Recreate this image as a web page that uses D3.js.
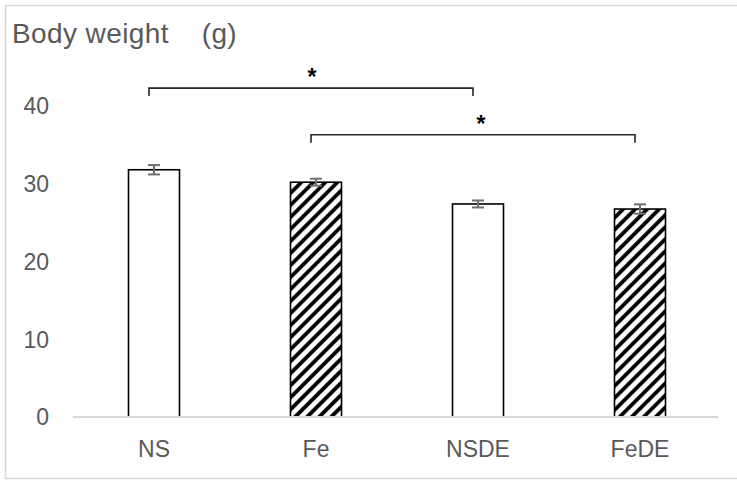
<!DOCTYPE html>
<html>
<head>
<meta charset="utf-8">
<script src="https://cdn.jsdelivr.net/npm/d3@7"></script>
<style>
  body { margin: 0; background: #fff; }
  svg { display: block; font-family: "Liberation Sans", Arial, sans-serif; }
</style>
</head>
<body>
<svg width="737" height="481"></svg>
<script>
// data
const groups = ['NS', 'Fe', 'NSDE', 'FeDE']
const means = [31.8, 30.2, 27.4, 26.75]
const errs = [0.6, 0.45, 0.45, 0.6]
const hatched = [false, true, false, true]
const yTicks = [0, 10, 20, 30, 40]
// significance brackets: from group, to group, height (g)
const sigFrom = ['NS', 'Fe']
const sigTo = ['NSDE', 'FeDE']
const sigLevel = [42.3, 36.3]
const sigStarShift = [1, 8]

const svg = d3.select('svg')
const margin = {top: 106, left: 73, right: 16, bottom: 64}
const W = 737, H = 481

// chart frame
svg.append('rect')
  .attr('x', 5.5).attr('y', 5.5)
  .attr('width', 740).attr('height', 473)
  .attr('fill', 'none').attr('stroke', '#d9d9d9').attr('stroke-width', 1.5)

const x = d3.scaleBand()
  .domain(groups)
  .range([margin.left, W - margin.right])

const y = d3.scaleLinear()
  .domain([0, 40])
  .range([417, 106])

// hatch pattern
const defs = svg.append('defs')
const pat = defs.append('pattern')
  .attr('id', 'hatch')
  .attr('patternUnits', 'userSpaceOnUse')
  .attr('width', 8.5).attr('height', 8.5)
  .attr('patternTransform', 'rotate(45)')
pat.append('rect').attr('width', 8.5).attr('height', 8.5).attr('fill', '#fff')
pat.append('line')
  .attr('x1', 2).attr('y1', 0).attr('x2', 2).attr('y2', 8.5)
  .attr('stroke', '#000').attr('stroke-width', 3.8)

// title
svg.append('text')
  .attr('x', 12).attr('y', 43)
  .attr('fill', '#595959')
  .attr('font-size', 28)
  .attr('letter-spacing', 0.4)
  .style('white-space', 'pre')
  .text('Body weight    (g)')

// y tick labels
svg.append('g')
  .selectAll('text')
  .data(yTicks)
  .enter().append('text')
  .attr('x', 49)
  .attr('y', d => y(d))
  .attr('dy', '0.36em')
  .attr('text-anchor', 'end')
  .attr('fill', '#595959')
  .attr('font-size', 23)
  .text(d => d)

const barW = 51
const bars = svg.append('g')
  .selectAll('g')
  .data(groups)
  .enter().append('g')

bars.append('rect')
  .attr('x', d => x(d) + x.bandwidth() / 2 - barW / 2)
  .attr('y', (d, i) => y(means[i]))
  .attr('width', barW)
  .attr('height', (d, i) => y(0) - y(means[i]))
  .attr('fill', (d, i) => hatched[i] ? 'url(#hatch)' : '#fff')
  .attr('stroke', '#000')
  .attr('stroke-width', 1.6)

// error bars
const eb = bars.append('g')
  .attr('stroke', '#707070')
  .attr('stroke-width', 2)
eb.append('line')
  .attr('x1', d => x(d) + x.bandwidth() / 2)
  .attr('x2', d => x(d) + x.bandwidth() / 2)
  .attr('y1', (d, i) => y(means[i] + errs[i]))
  .attr('y2', (d, i) => y(means[i] - errs[i]))
eb.append('line')
  .attr('x1', d => x(d) + x.bandwidth() / 2 - 6)
  .attr('x2', d => x(d) + x.bandwidth() / 2 + 6)
  .attr('y1', (d, i) => y(means[i] + errs[i]))
  .attr('y2', (d, i) => y(means[i] + errs[i]))
eb.append('line')
  .attr('x1', d => x(d) + x.bandwidth() / 2 - 6)
  .attr('x2', d => x(d) + x.bandwidth() / 2 + 6)
  .attr('y1', (d, i) => y(means[i] - errs[i]))
  .attr('y2', (d, i) => y(means[i] - errs[i]))

// baseline
svg.append('line')
  .attr('x1', x.range()[0]).attr('x2', x.range()[1] - 3)
  .attr('y1', y(0)).attr('y2', y(0))
  .attr('stroke', '#d9d9d9').attr('stroke-width', 2)

// category labels
svg.append('g')
  .selectAll('text')
  .data(groups)
  .enter().append('text')
  .attr('x', d => x(d) + x.bandwidth() / 2)
  .attr('y', 457)
  .attr('text-anchor', 'middle')
  .attr('fill', '#595959')
  .attr('font-size', 23)
  .text(d => d)

// significance brackets
const sig = svg.append('g')
  .selectAll('g')
  .data(sigFrom)
  .enter().append('g')
sig.append('path')
  .attr('fill', 'none')
  .attr('stroke', '#262626')
  .attr('stroke-width', 1.6)
  .attr('d', (d, i) => {
    const x1 = x(d) + x.bandwidth() / 2 - 5
    const x2 = x(sigTo[i]) + x.bandwidth() / 2 - 5
    const yy = y(sigLevel[i])
    return 'M' + x1 + ',' + (yy + 8) + 'V' + yy + 'H' + x2 + 'V' + (yy + 8)
  })
sig.append('text')
  .attr('x', (d, i) => (x(d) + x(sigTo[i])) / 2 + x.bandwidth() / 2 - 5 + sigStarShift[i])
  .attr('y', (d, i) => y(sigLevel[i]) - 3)
  .attr('text-anchor', 'middle')
  .attr('font-size', 23)
  .attr('font-weight', 'bold')
  .attr('fill', '#000')
  .text('*')
</script>
</body>
</html>
